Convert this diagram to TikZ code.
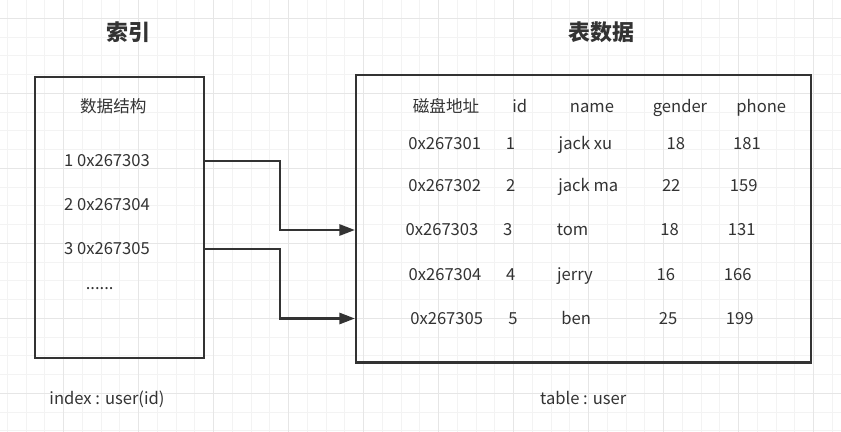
\documentclass[tikz,border=0pt]{standalone}
\usepackage{fontspec}
\setmainfont{Noto Sans CJK SC}
\usetikzlibrary{arrows.meta}
\usetikzlibrary{calc}

\definecolor{ink}{HTML}{333333}
\definecolor{gridminor}{HTML}{F3F3F3}
\definecolor{gridmajor}{HTML}{E6E6E6}

\tikzset{
	box/.style={draw=ink, line width=1.6pt, inner sep=0pt},
	cell/.style={text=ink, font=\fontsize{11.8}{13}\selectfont, text height=1.5ex, text depth=0pt, inner sep=0pt},
	heading/.style={text=ink, font=\fontsize{15.6}{18}\selectfont\bfseries, inner sep=0pt},
	link/.style={draw=ink, line width=1.5pt, -{Triangle[length=11pt,width=8pt]}},
}

\begin{document}
\begin{tikzpicture}[x=0.025cm, y=-0.025cm]
	\useasboundingbox (0,0) rectangle (841,432);
	\fill[white] (0,0) rectangle (841,432);
	\foreach \k in {0,...,44}
		\draw[gridminor, line width=0.6pt] ({7.3+18.75*\k},0) -- ({7.3+18.75*\k},432);
	\foreach \k in {0,...,22}
		\draw[gridminor, line width=0.6pt] (0,{18.3+18.75*\k}) -- (841,{18.3+18.75*\k});
	\foreach \k in {0,...,10}
		\draw[gridmajor, line width=0.6pt] ({63.55+75*\k},0) -- ({63.55+75*\k},432);
	\foreach \k in {0,...,5}
		\draw[gridmajor, line width=0.6pt] (0,{18.3+75*\k}) -- (841,{18.3+75*\k});

	\node[heading] (ttlidx) at (128,32) {索引};
	\node[heading] (ttltab) at (601.7,32) {表数据};

	\node[box, minimum width=4.225cm, minimum height=7.025cm] (ibox) at (119.5,217.5) {};
	\node[box, minimum width=11.375cm, minimum height=7.1875cm] (tbox) at (583.5,218.75) {};

	\node[cell] (struct) at (113.3,106.7) {数据结构};
	\node[cell] (i1) at (107,161) {1 0x267303};
	\node[cell] (i2) at (107,205) {2 0x267304};
	\node[cell] (i3) at (107,249) {3 0x267305};
	\node[cell] (more) at (99.7,284) {......};

	\node[cell] (hdisk) at (446,106.7) {磁盘地址};
	\node[cell] (hid) at (519.7,106.7) {id};
	\node[cell] (hname) at (592,106.7) {name};
	\node[cell] (hgender) at (680,106.7) {gender};
	\node[cell] (hphone) at (761.3,106.7) {phone};

	\node[cell] (a1) at (444.7,143.3) {0x267301};
	\node[cell] (id1) at (510.5,143.3) {1};
	\node[cell] (n1) at (585.5,143.3) {jack xu};
	\node[cell] (g1) at (675.8,143.3) {18};
	\node[cell] (p1) at (747,143.3) {181};

	\node[cell] (a2) at (444.7,186.2) {0x267302};
	\node[cell] (id2) at (510.8,186.2) {2};
	\node[cell] (n2) at (588.3,186.2) {jack ma};
	\node[cell] (g2) at (671.2,186.2) {22};
	\node[cell] (p2) at (743.7,186.2) {159};

	\node[cell] (a3) at (442,230) {0x267303};
	\node[cell] (id3) at (507.8,230) {3};
	\node[cell] (n3) at (572.5,230) {tom};
	\node[cell] (g3) at (669.5,230) {18};
	\node[cell] (p3) at (741.7,230) {131};

	\node[cell] (a4) at (445,275) {0x267304};
	\node[cell] (id4) at (510.8,275) {4};
	\node[cell] (n4) at (575,275) {jerry};
	\node[cell] (g4) at (665.8,275) {16};
	\node[cell] (p4) at (737.8,275) {166};

	\node[cell] (a5) at (446.7,318.5) {0x267305};
	\node[cell] (id5) at (513,318.5) {5};
	\node[cell] (n5) at (576.2,318.5) {ben};
	\node[cell] (g5) at (668,318.5) {25};
	\node[cell] (p5) at (739.7,318.5) {199};

	\node[cell] (icap) at (107,398.7) {index : user(id)};
	\node[cell] (tcap) at (583.2,398.7) {table : user};

	\coordinate (bend) at (280,0);
	\draw[link] (i1 -| ibox.east) -- (i1 -| bend) |- (a3 -| tbox.west);
	\draw[link] (i3 -| ibox.east) -- (i3 -| bend) |- (a5 -| tbox.west);
\end{tikzpicture}
\end{document}
